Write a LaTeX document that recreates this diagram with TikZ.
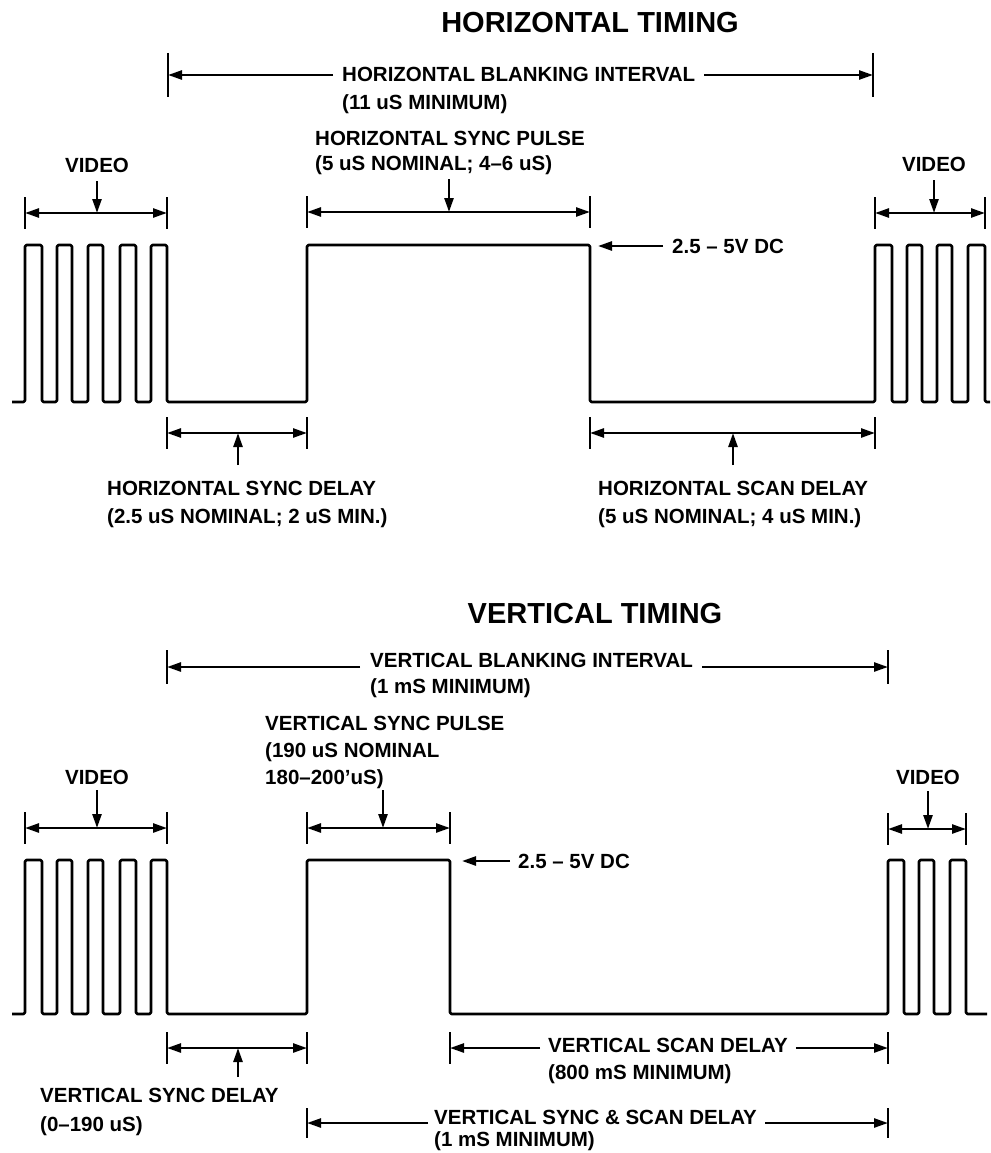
\documentclass[tikz,border=0pt]{standalone}
\usepackage{fontspec}
\setmainfont{Liberation Sans}
\usetikzlibrary{arrows.meta,calc}
\begin{document}
\begin{tikzpicture}[x=1pt,y=-1pt,
  wave/.style={line width=2.6pt, line join=round, rounded corners=1.5pt},
  dimline/.style={line width=2.5pt},
  tick/.style={line width=2.7pt},
  tip/.style={-{Triangle[length=14pt,width=9pt]}},
  tips/.style={{Triangle[length=14pt,width=9pt]}-{Triangle[length=14pt,width=9pt]}},
  lbl/.style={font=\fontsize{20.5}{24}\selectfont\bfseries, inner sep=0pt, anchor=base west},
  clbl/.style={font=\fontsize{20.5}{24}\selectfont\bfseries, inner sep=0pt, anchor=base},
  ttl/.style={font=\fontsize{29}{34}\selectfont\bfseries, inner sep=0pt}]
\useasboundingbox (0,0) rectangle (990,1153);

% ================= HORIZONTAL TIMING =================
\node[ttl] (htitle) at (590,23) {HORIZONTAL TIMING};

% blanking interval
\node[lbl] (hbi) at (342,82) {HORIZONTAL BLANKING INTERVAL};
\node[lbl] (hbi2) at (342,110) {(11 uS MINIMUM)};
\coordinate (hbL) at (168,75); \coordinate (hbR) at (873,75);
\coordinate (hbLa) at (333,75);
\coordinate (hbRa) at ($(hbi.east|-hbR)+(9,0)$);
\draw[tick] (hbL) +(0,-22) -- +(0,22);
\draw[tick] (hbR) +(0,-22) -- +(0,22);
\draw[dimline,tip] (hbLa) -- (hbL);
\draw[dimline,tip] (hbRa) -- (hbR);

% waveform
\draw[wave] (12,402) -- (25,402) -- (25,245) -- (42,245) -- (42,402)
  -- (57,402) -- (57,245) -- (72,245) -- (72,402)
  -- (88,402) -- (88,245) -- (103,245) -- (103,402)
  -- (120,402) -- (120,245) -- (136,245) -- (136,402)
  -- (151,402) -- (151,245) -- (167,245) -- (167,402)
  -- (307,402) -- (307,245) -- (590,245) -- (590,402)
  -- (875,402) -- (875,245) -- (892,245) -- (892,402)
  -- (907,402) -- (907,245) -- (922,245) -- (922,402)
  -- (937,402) -- (937,245) -- (952,245) -- (952,402)
  -- (968,402) -- (968,245) -- (985,245) -- (985,402) -- (990,402);

% video left
\node[clbl] (hv1) at (97,172) {VIDEO};
\coordinate (hv1L) at (25,213); \coordinate (hv1R) at (167,213); \coordinate (hv1M) at (97,213);
\draw[tick] (hv1L) +(0,-16) -- +(0,16);
\draw[tick] (hv1R) +(0,-16) -- +(0,16);
\draw[dimline,tips] (hv1L) -- (hv1R);
\draw[dimline,tip] (hv1M) ++(0,-32) -- (hv1M);

% sync pulse
\node[lbl] (hsp1) at (315,145) {HORIZONTAL SYNC PULSE};
\node[lbl] (hsp2) at (315,170) {(5 uS NOMINAL; 4--6 uS)};
\coordinate (hspL) at (307,212); \coordinate (hspR) at (590,212); \coordinate (hspM) at (449,212);
\draw[tick] (hspL) +(0,-16) -- +(0,16);
\draw[tick] (hspR) +(0,-16) -- +(0,16);
\draw[dimline,tips] (hspL) -- (hspR);
\draw[dimline,tip] (hspM) ++(0,-33) -- (hspM);

% level
\node[lbl] (hdc) at (672,253) {2.5 -- 5V DC};
\coordinate (hdcA) at (663,246); \coordinate (hdcB) at (598,246);
\draw[dimline,tip] (hdcA) -- (hdcB);

% video right
\node[clbl] (hv2) at (934,171) {VIDEO};
\coordinate (hv2L) at (875,213); \coordinate (hv2R) at (985,213); \coordinate (hv2M) at (934,213);
\draw[tick] (hv2L) +(0,-16) -- +(0,16);
\draw[tick] (hv2R) +(0,-16) -- +(0,16);
\draw[dimline,tips] (hv2L) -- (hv2R);
\draw[dimline,tip] (hv2M) ++(0,-33) -- (hv2M);

% sync delay
\coordinate (hsdL) at (167,433); \coordinate (hsdR) at (307,433); \coordinate (hsdM) at (238,433);
\draw[tick] (hsdL) +(0,-16) -- +(0,16);
\draw[tick] (hsdR) +(0,-16) -- +(0,16);
\draw[dimline,tips] (hsdL) -- (hsdR);
\draw[dimline,tip] (hsdM) ++(0,32) -- (hsdM);
\node[lbl] (hsd1) at (107,495) {HORIZONTAL SYNC DELAY};
\node[lbl] (hsd2) at (107,523) {(2.5 uS NOMINAL; 2 uS MIN.)};

% scan delay
\coordinate (hscL) at (590,433); \coordinate (hscR) at (875,433); \coordinate (hscM) at (733,433);
\draw[tick] (hscL) +(0,-16) -- +(0,16);
\draw[tick] (hscR) +(0,-16) -- +(0,16);
\draw[dimline,tips] (hscL) -- (hscR);
\draw[dimline,tip] (hscM) ++(0,32) -- (hscM);
\node[lbl] (hsc1) at (598,495) {HORIZONTAL SCAN DELAY};
\node[lbl] (hsc2) at (598,523) {(5 uS NOMINAL; 4 uS MIN.)};

% ================= VERTICAL TIMING =================
\node[ttl] (vtitle) at (595,614) {VERTICAL TIMING};

% blanking interval
\node[lbl] (vbi) at (370,667) {VERTICAL BLANKING INTERVAL};
\node[lbl] (vbi2) at (370,693) {(1 mS MINIMUM)};
\coordinate (vbL) at (167,667); \coordinate (vbR) at (888,667);
\coordinate (vbLa) at (360,667);
\coordinate (vbRa) at ($(vbi.east|-vbR)+(9,0)$);
\draw[tick] (vbL) +(0,-17) -- +(0,17);
\draw[tick] (vbR) +(0,-17) -- +(0,17);
\draw[dimline,tip] (vbLa) -- (vbL);
\draw[dimline,tip] (vbRa) -- (vbR);

% waveform
\draw[wave] (12,1014) -- (25,1014) -- (25,860) -- (42,860) -- (42,1014)
  -- (57,1014) -- (57,860) -- (72,860) -- (72,1014)
  -- (88,1014) -- (88,860) -- (103,860) -- (103,1014)
  -- (120,1014) -- (120,860) -- (136,860) -- (136,1014)
  -- (151,1014) -- (151,860) -- (167,860) -- (167,1014)
  -- (307,1014) -- (307,860) -- (450,860) -- (450,1014)
  -- (888,1014) -- (888,860) -- (904,860) -- (904,1014)
  -- (919,1014) -- (919,860) -- (934,860) -- (934,1014)
  -- (950,1014) -- (950,860) -- (966,860) -- (966,1014) -- (987,1014);

% video left
\node[clbl] (vv1) at (97,784) {VIDEO};
\coordinate (vv1L) at (25,828); \coordinate (vv1R) at (167,828); \coordinate (vv1M) at (97,828);
\draw[tick] (vv1L) +(0,-16) -- +(0,16);
\draw[tick] (vv1R) +(0,-16) -- +(0,16);
\draw[dimline,tips] (vv1L) -- (vv1R);
\draw[dimline,tip] (vv1M) ++(0,-38) -- (vv1M);

% sync pulse
\node[lbl] (vsp1) at (265,730) {VERTICAL SYNC PULSE};
\node[lbl] (vsp2) at (265,757) {(190 uS NOMINAL};
\node[lbl] (vsp3) at (265,784) {180--200'uS)};
\coordinate (vspL) at (307,828); \coordinate (vspR) at (450,828); \coordinate (vspM) at (383,828);
\draw[tick] (vspL) +(0,-16) -- +(0,16);
\draw[tick] (vspR) +(0,-16) -- +(0,16);
\draw[dimline,tips] (vspL) -- (vspR);
\draw[dimline,tip] (vspM) ++(0,-38) -- (vspM);

% level
\node[lbl] (vdc) at (518,868) {2.5 -- 5V DC};
\coordinate (vdcA) at (510,861); \coordinate (vdcB) at (462,861);
\draw[dimline,tip] (vdcA) -- (vdcB);

% video right
\node[clbl] (vv2) at (928,784) {VIDEO};
\coordinate (vv2L) at (888,829); \coordinate (vv2R) at (966,829); \coordinate (vv2M) at (928,829);
\draw[tick] (vv2L) +(0,-16) -- +(0,16);
\draw[tick] (vv2R) +(0,-16) -- +(0,16);
\draw[dimline,tips] (vv2L) -- (vv2R);
\draw[dimline,tip] (vv2M) ++(0,-38) -- (vv2M);

% sync delay
\coordinate (vsdL) at (167,1048); \coordinate (vsdR) at (307,1048); \coordinate (vsdM) at (238,1048);
\draw[tick] (vsdL) +(0,-16) -- +(0,16);
\draw[tick] (vsdR) +(0,-16) -- +(0,16);
\draw[dimline,tips] (vsdL) -- (vsdR);
\draw[dimline,tip] (vsdM) ++(0,29) -- (vsdM);
\node[lbl] (vsd1) at (40,1102) {VERTICAL SYNC DELAY};
\node[lbl] (vsd2) at (40,1131) {(0--190 uS)};

% scan delay
\node[lbl] (vsc1) at (548,1052) {VERTICAL SCAN DELAY};
\node[lbl] (vsc2) at (548,1079) {(800 mS MINIMUM)};
\coordinate (vscL) at (450,1048); \coordinate (vscR) at (888,1048);
\coordinate (vscLa) at (540,1048);
\coordinate (vscRa) at ($(vsc1.east|-vscR)+(8,0)$);
\draw[tick] (vscL) +(0,-16) -- +(0,16);
\draw[tick] (vscR) +(0,-16) -- +(0,16);
\draw[dimline,tip] (vscLa) -- (vscL);
\draw[dimline,tip] (vscRa) -- (vscR);

% sync & scan delay
\node[lbl] (vss1) at (434,1124) {VERTICAL SYNC \& SCAN DELAY};
\node[lbl] (vss2) at (434,1146) {(1 mS MINIMUM)};
\coordinate (vssL) at (307,1123); \coordinate (vssR) at (888,1123);
\coordinate (vssLa) at (428,1123);
\coordinate (vssRa) at ($(vss1.east|-vssR)+(8,0)$);
\draw[tick] (vssL) +(0,-15) -- +(0,15);
\draw[tick] (vssR) +(0,-15) -- +(0,15);
\draw[dimline,tip] (vssLa) -- (vssL);
\draw[dimline,tip] (vssRa) -- (vssR);
\end{tikzpicture}
\end{document}
